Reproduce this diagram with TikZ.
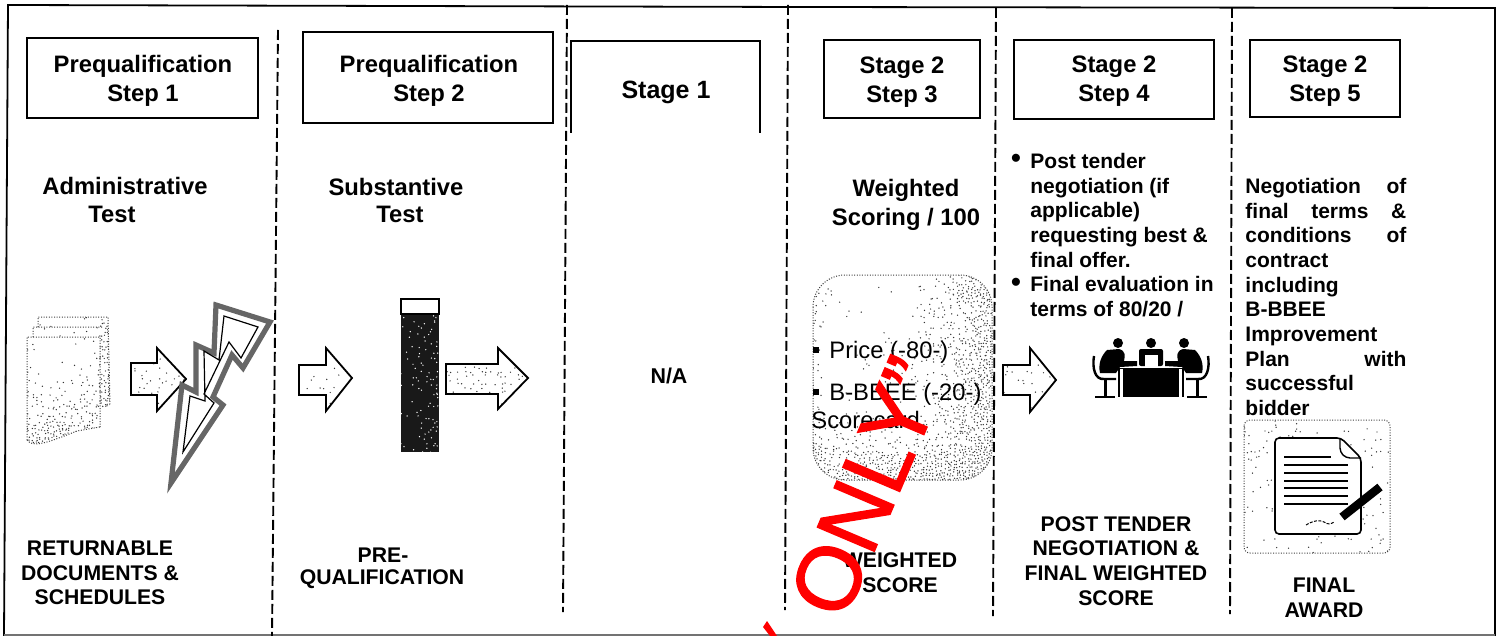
\documentclass[tikz,border=0pt]{standalone}
\usepackage{fontspec}
\setmainfont{Liberation Sans}
\newfontfamily\wmfont[FakeBold=1.4]{Liberation Sans}
\definecolor{wm}{HTML}{FF0000}
\newcommand{\stippledots}[6]{% x0 x1 y0 y1 step probability(\px,\py)
  \foreach \px in {#1,\the\numexpr#1+#5\relax,...,#2}{
    \foreach \py in {#3,\the\numexpr#3+#5\relax,...,#4}{
      \pgfmathtruncatemacro{\hit}{rnd<(#6)?1:0}
      \ifnum\hit=1
        \pgfmathsetmacro{\jx}{\px+1.2*rand}
        \pgfmathsetmacro{\jy}{\py+1.2*rand}
        \fill[stipplecol] (\jx,\jy) circle[radius=0.36pt];
      \fi
    }
  }
}
\newcommand{\blockarrow}[8]{% tailx basex tipx tipy headtop headbot tailtop tailbot
  \begin{scope}
    \clip (#1,#7) -- (#2,#7) -- (#2,#5) -- (#3,#4) -- (#2,#6) -- (#2,#8) -- (#1,#8) -- cycle;
    \stippledots{#1}{#3}{#5}{#6}{4}{0.22}
  \end{scope}
  \draw[blockarrow] (#1,#7) -- (#2,#7) -- (#2,#5) -- (#3,#4) -- (#2,#6) -- (#2,#8) -- (#1,#8) -- cycle;
}
\newcommand{\personside}{%
  \fill[black] (1118,343) circle[radius=2.5pt];
  \fill[black] (1107,350) -- (1119,349) .. controls (1126,351) and (1125,356) .. (1124,361)
     -- (1137,361) -- (1137,366) -- (1120,367) -- (1116,373) -- (1100,373) .. controls (1098,364) and (1101,356) .. (1107,350) -- cycle;
  \draw[black,line width=1.2pt] (1094,356) .. controls (1092,368) and (1095,380) .. (1104,379) -- (1116,379);
  \draw[black,line width=1.5pt] (1105,379) -- (1105,396);
  \draw[black,line width=1.1pt] (1095,397) -- (1115,397);
  \draw[black,line width=1.2pt] (1119,369) -- (1119,397);
}
\tikzset{
  x=0.5pt,y=-0.5pt,
  stipplecol/.style={black!80},
  boxn/.style={draw=black,line width=0.9pt,fill=white},
  head/.style={inner sep=0pt,align=center,font=\fontsize{11.9}{14.5}\bfseries\selectfont},
  bodyt/.style={inner sep=0pt,align=left,anchor=north west,font=\fontsize{10.5}{12.33}\bfseries\selectfont},
  capt/.style={inner sep=0pt,align=center,font=\fontsize{10.6}{12.35}\bfseries\selectfont},
  scoret/.style={inner sep=0pt,anchor=west,font=\fontsize{11.9}{14}\selectfont},
  bullt/.style={inner sep=0pt,font=\fontsize{14}{14}\bfseries\selectfont},
  divider/.style={draw=black,line width=0.95pt,dash pattern=on 5pt off 2pt},
  blockarrow/.style={draw=black,line width=0.9pt,line join=miter},
  frameln/.style={draw=black,line width=0.9pt},
  dotline/.style={draw=black!75,line width=0.5pt,dash pattern=on 0.5pt off 0.8pt},
}
\begin{document}
\begin{tikzpicture}
\pgfmathsetseed{4242}
\useasboundingbox (0,0) rectangle (1498,636);
\fill[white] (0,0) rectangle (1498,636);
% frame
\draw[frameln] (4,636) -- (8,5) -- (800,7) -- (1495,8) -- (1495,636);
\draw[black!55,line width=0.6pt] (4,635) -- (1495,635);
% dividers
\coordinate (d1t) at (278,30); \coordinate (d1b) at (272,636);
\coordinate (d2t) at (567,5);  \coordinate (d2b) at (563,612);
\coordinate (d3t) at (788,5);  \coordinate (d3b) at (785,610);
\coordinate (d4t) at (996,8);  \coordinate (d4b) at (993,616);
\coordinate (d5t) at (1232,8); \coordinate (d5b) at (1230,614);
\foreach \a/\b in {d1t/d1b,d2t/d2b,d3t/d3b,d4t/d4b,d5t/d5b} \draw[divider] (\a) -- (\b);
% header boxes
\draw[boxn] (27,38) rectangle (258,118);
\draw[boxn] (303,32) rectangle (553,123);
\draw[frameln,line width=0.8pt] (571,133) -- (571,41) -- (760,41) -- (760,133);
\draw[boxn] (824,40) rectangle (980,118);
\draw[boxn] (1014,40) rectangle (1214,119);
\draw[boxn] (1250,40) rectangle (1400,117);
\node[head] (h1) at (143,80.5) {Prequalification\\Step 1};
\node[head] (h2) at (429,80.5) {Prequalification\\Step 2};
\node[head,font=\fontsize{12.5}{15}\bfseries\selectfont] (h3) at (666,92) {Stage 1};
\node[head] (h4) at (902,82) {Stage 2\\Step 3};
\node[head] (h5) at (1114,81.5) {Stage 2\\Step 4};
\node[head] (h6) at (1325,81) {Stage 2\\Step 5};
% sub-headings
\node[head] (s1a) at (125,186) {Administrative};
\node[head] (s1b) at (112,214) {Test};
\node[head] (s2a) at (396,187) {Substantive};
\node[head] (s2b) at (400,214) {Test};
\node[head] (s4) at (906,204.5) {Weighted\\Scoring / 100};
\node[inner sep=0pt,font=\fontsize{10.7}{13}\bfseries\selectfont] (na) at (669,376) {N/A};
% documents icon
\begin{scope}
  \clip (38,317) -- (108,317) -- (110,405) -- (98,410) -- (98,427) -- (77,431) -- (35,445) -- (27,440) -- (27,337) -- (33,337) -- (33,327) -- (38,327) -- cycle;
  \stippledots{27}{112}{317}{446}{3}{0.04+0.85*pow(max(0,(\py-365)/75),2)+0.85*pow(max(0,(\px-88)/20),2)}
\end{scope}
\draw[dotline] (38,327) -- (38,317) -- (108,317) -- (110,405) (33,337) -- (33,327) -- (102,327) (27,440) -- (27,337) -- (100,337) -- (100,427) (27,440) .. controls (33,447) and (42,445) .. (77,431) -- (100,427);
% arrows
\blockarrow{131}{157}{186}{379}{348}{411}{363}{395}
\blockarrow{299}{326}{352}{378}{348}{411}{365}{395}
\blockarrow{446}{498}{528}{378}{348}{409}{364}{394}
\blockarrow{1003}{1030}{1056}{380}{348}{412}{365}{395}
% lightning
\draw[black!60,line width=2.6pt,line join=miter,miter limit=20,fill=white] (216,305) -- (270,322) -- (243,368) -- (232,355) -- (213,397) -- (223,405) -- (171,483) -- (182,385) -- (196,392) -- (196,345) -- (214,353) -- cycle;
\draw[black,line width=0.6pt,line join=miter] (224,316) -- (258,327) -- (241,358) -- (229,342) -- (204,394) -- (214,403) -- (183,452) -- (190,396) -- (205,401) -- (204,351) -- (219,360) -- cycle;
% column
\fill[black!90] (401,314) rectangle (439,452);
\begin{scope}
  \tikzset{stipplecol/.style={white}}
  \clip (401,314) rectangle (439,452);
  \stippledots{401}{439}{314}{452}{3}{0.08+0.3*pow(max(0,(\px-408)/31),2)}
\end{scope}
\draw[black,line width=0.9pt] (401,299) rectangle (439,314);
% scorecard panel
\begin{scope}
  \clip[rounded corners=16pt] (813,275) rectangle (992,480);
  \stippledots{813}{992}{275}{480}{3}{0.03+0.9*pow(max(0,(\py-405)/75),2)+0.85*pow(max(0,(\px-890)/102),2)+0.35*pow(max(0,(830-\px)/17),2)}
\end{scope}
\draw[dotline,rounded corners=16pt] (813,275) rectangle (992,480);
\fill[black] (813,347) rectangle (819,353);
\fill[black] (813,389) rectangle (819,395);
\node[scoret] (p1) at (829,352) {Price (-80-)};
\node[scoret] (p2) at (829,394) {B-BBEE (-20-)};
\node[scoret] (p3) at (811,420) {Scorecard};
% step 4 text
\node[bullt] (b1) at (1016,161) {•};
\node[bullt] (b2) at (1016,285) {•};
\node[bodyt] (t4) at (1030,153) {Post tender\\negotiation (if\\applicable)\\requesting best \&\\final offer.\\Final evaluation in\\terms of 80/20 /};
% people icon
\personside
\begin{scope}[shift={(2302,0)},xscale=-1]
\personside
\end{scope}
\fill[black] (1151,343) circle[radius=2.5pt];
\fill[black,rounded corners=1pt] (1139,349) rectangle (1163,366);
\fill[white] (1145,355) rectangle (1158,367);
\draw[black,line width=0.5pt] (1115,368) -- (1188,368);
\fill[black] (1123,369) rectangle (1179,397);
% step 5 text
\node[bodyt] (t5) at (1245,178) {\hbox to 80.5pt{Negotiation\hfill of}\\\hbox to 80.5pt{final\hfill terms\hfill \&}\\\hbox to 80.5pt{conditions\hfill of}\\contract\\including\\B-BBEE\\Improvement\\\hbox to 80.5pt{Plan\hfill with}\\successful\\bidder};
% award icon
\begin{scope}
  \clip[rounded corners=3pt] (1244,420) rectangle (1390,553);
  \stippledots{1244}{1390}{420}{553}{4}{0.13}
\end{scope}
\draw[dotline,rounded corners=3pt] (1244,420) rectangle (1390,553);
\draw[black,line width=0.8pt,fill=white,rounded corners=2pt] (1275,438) -- (1341,438) -- (1361,458) -- (1361,534) -- (1275,534) -- cycle;
\draw[black,line width=0.7pt,rounded corners=2pt] (1340,438) -- (1340,452) -- (1346,458) -- (1361,458);
\draw[black,line width=0.7pt] (1284,457) -- (1331,457);
\foreach \ly in {465,473,481,488,496,504} \draw[black,line width=0.7pt] (1284,\ly) -- (1348,\ly);
\draw[black,line width=4.2pt] (1342,517) -- (1380,487);
\draw[black,line width=0.5pt,dash pattern=on 1.5pt off 0.7pt] (1306,525) .. controls (1314,520) and (1320,520) .. (1324,522) .. controls (1328,525) and (1331,524) .. (1334,522);
% captions
\node[capt] (c1) at (100,573) {RETURNABLE\\DOCUMENTS \&\\SCHEDULES};
\node[capt] (c2a) at (383,555) {PRE-};
\node[capt] (c2b) at (382,579) {QUALIFICATION};
\node[capt] (c4) at (900,572.5) {WEIGHTED\\SCORE};
\node[capt] (c5) at (1116,561) {POST TENDER\\NEGOTIATION \&\\FINAL WEIGHTED\\SCORE};
\node[capt] (c6) at (1324,598) {FINAL\\AWARD};
% watermark
\node[inner sep=0pt,text=wm,rotate=67,font=\wmfont\fontsize{45}{45}\selectfont] (wm) at (868,487) {ONLY”};
\fill[wm] (767,621) -- (777,636) -- (770,636) -- (763,627) -- cycle;
\end{tikzpicture}
\end{document}
